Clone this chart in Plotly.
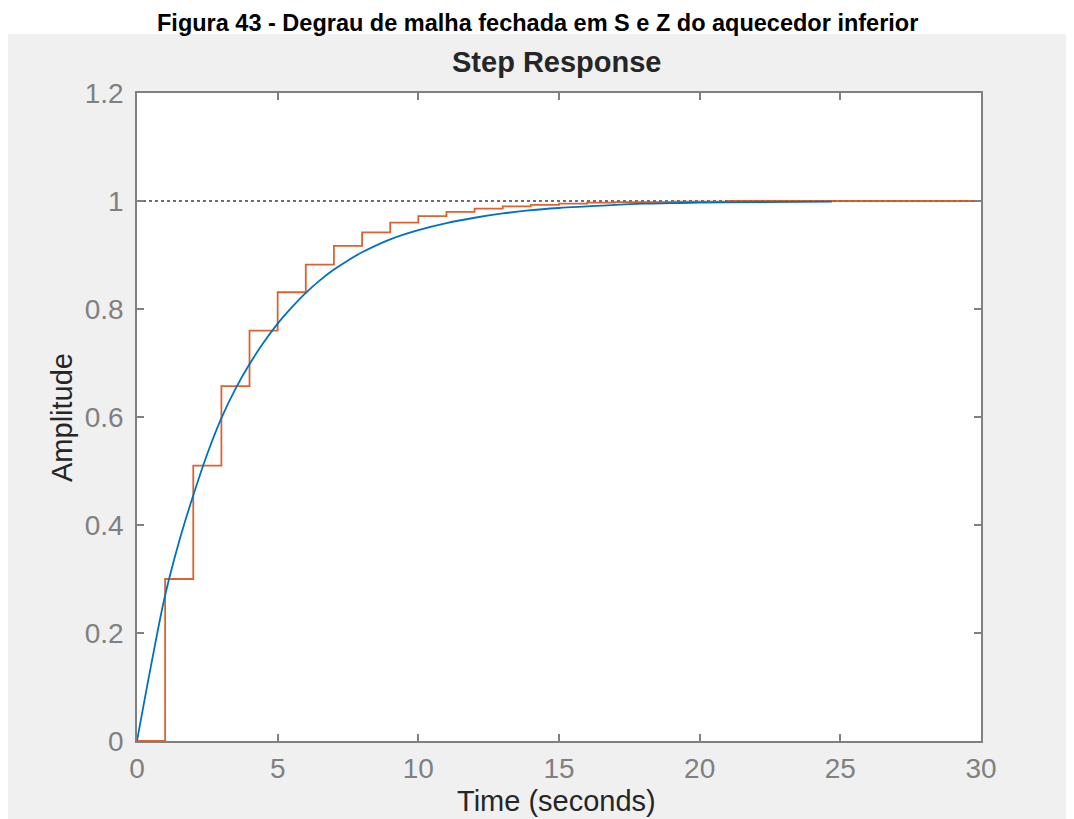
import plotly.graph_objects as go

# Continuous (S) closed-loop step response
t_s = [0, 0.5, 1, 1.5, 2, 2.5, 3, 3.5, 4, 4.5, 5, 5.5, 6, 6.5, 7, 7.5, 8, 9, 10,
       11, 12, 13, 14, 15, 16, 17, 18, 19, 20, 22, 24.7]
y_s = [0, 0.14, 0.27, 0.37, 0.455, 0.532, 0.598, 0.652, 0.698, 0.738, 0.773, 0.803,
       0.83, 0.853, 0.873, 0.89, 0.905, 0.929, 0.946, 0.959, 0.969, 0.977, 0.983,
       0.987, 0.99, 0.993, 0.995, 0.996, 0.997, 0.998, 0.999]

# Discrete (Z) closed-loop step response, sample time 1 s
t_z = list(range(0, 31))
y_z = [0, 0.30, 0.51, 0.657, 0.76, 0.831, 0.882, 0.917, 0.942, 0.96, 0.972, 0.98,
       0.986, 0.99, 0.993, 0.995, 0.997, 0.998, 0.998, 0.999, 0.999, 1.0, 1.0, 1.0,
       1.0, 1.0, 1.0, 1.0, 1.0, 1.0, 1.0]

steady = [1, 1]
steady_t = [0, 30]

x_ticks = [0, 5, 10, 15, 20, 25, 30]
y_ticks = [0, 0.2, 0.4, 0.6, 0.8, 1, 1.2]
y_tick_text = ["0", "0.2", "0.4", "0.6", "0.8", "1", "1.2"]

FONT = "Liberation Sans, Arial, Helvetica, sans-serif"

fig = go.Figure()
fig.add_trace(go.Scatter(x=steady_t, y=steady, mode="lines",
                         line=dict(color="#404040", width=1.5, dash="dot"),
                         hoverinfo="skip", showlegend=False))
fig.add_trace(go.Scatter(x=t_z, y=y_z, mode="lines", line_shape="hv",
                         line=dict(color="#D95319", width=1.8),
                         opacity=0.9, showlegend=False))
fig.add_trace(go.Scatter(x=t_s, y=y_s, mode="lines", line_shape="spline",
                         line=dict(color="#0072BD", width=1.8, smoothing=1.0),
                         showlegend=False))

OFF = 8  # default page body margin
# plot area in page pixels: x 137..981, y 93..741
L, T = 137 - OFF, 93 - OFF
W, H = 1074 - OFF, 819 - OFF
pw, ph = 844, 648
R = W - L - pw
B = H - T - ph


def px(xp):
    return (xp - OFF - L) / pw


def py(yp):
    return (H - B - (yp - OFF)) / ph


fig.update_layout(
    width=W, height=H,
    margin=dict(l=L, r=R, t=T, b=B, pad=0),
    paper_bgcolor="#f0f0f0",
    plot_bgcolor="white",
    font=dict(family=FONT),
    shapes=[dict(type="rect", xref="paper", yref="paper",
                 x0=px(0) - 0.02, x1=px(1074) + 0.02,
                 y0=py(34), y1=py(0) + 0.02,
                 fillcolor="white", line=dict(width=0), layer="below")],
    annotations=[
        dict(text="<b>Figura 43 - Degrau de malha fechada em S e Z do aquecedor inferior</b>",
             xref="paper", yref="paper", x=px(537), y=py(8.5),
             xanchor="center", yanchor="top", showarrow=False,
             font=dict(size=23.5, color="black", family=FONT)),
        dict(text="<b>Step Response</b>",
             xref="paper", yref="paper", x=px(557), y=py(62),
             xanchor="center", yanchor="middle", showarrow=False,
             font=dict(size=29, color="#262626", family=FONT)),
        dict(text="Amplitude", textangle=-90,
             xref="paper", yref="paper", x=px(62), y=py(418),
             xanchor="center", yanchor="middle", showarrow=False,
             font=dict(size=29, color="#262626", family=FONT)),
        dict(text="Time (seconds)",
             xref="paper", yref="paper", x=px(556), y=py(801),
             xanchor="center", yanchor="middle", showarrow=False,
             font=dict(size=29, color="#262626", family=FONT)),
    ],
)

axis_common = dict(showgrid=False, zeroline=False, showline=True, linecolor="#808080",
                   linewidth=1.5, mirror="ticks", ticks="inside", ticklen=7,
                   tickcolor="#808080", tickwidth=1.5,
                   tickfont=dict(size=28, color="#808080", family=FONT))

fig.update_xaxes(range=[0, 30], tickvals=x_ticks, ticklabelstandoff=2, **axis_common)
fig.update_yaxes(range=[0, 1.2], tickvals=y_ticks, ticktext=y_tick_text,
                 ticklabelstandoff=6, **axis_common)

fig.write_html("out.html")
